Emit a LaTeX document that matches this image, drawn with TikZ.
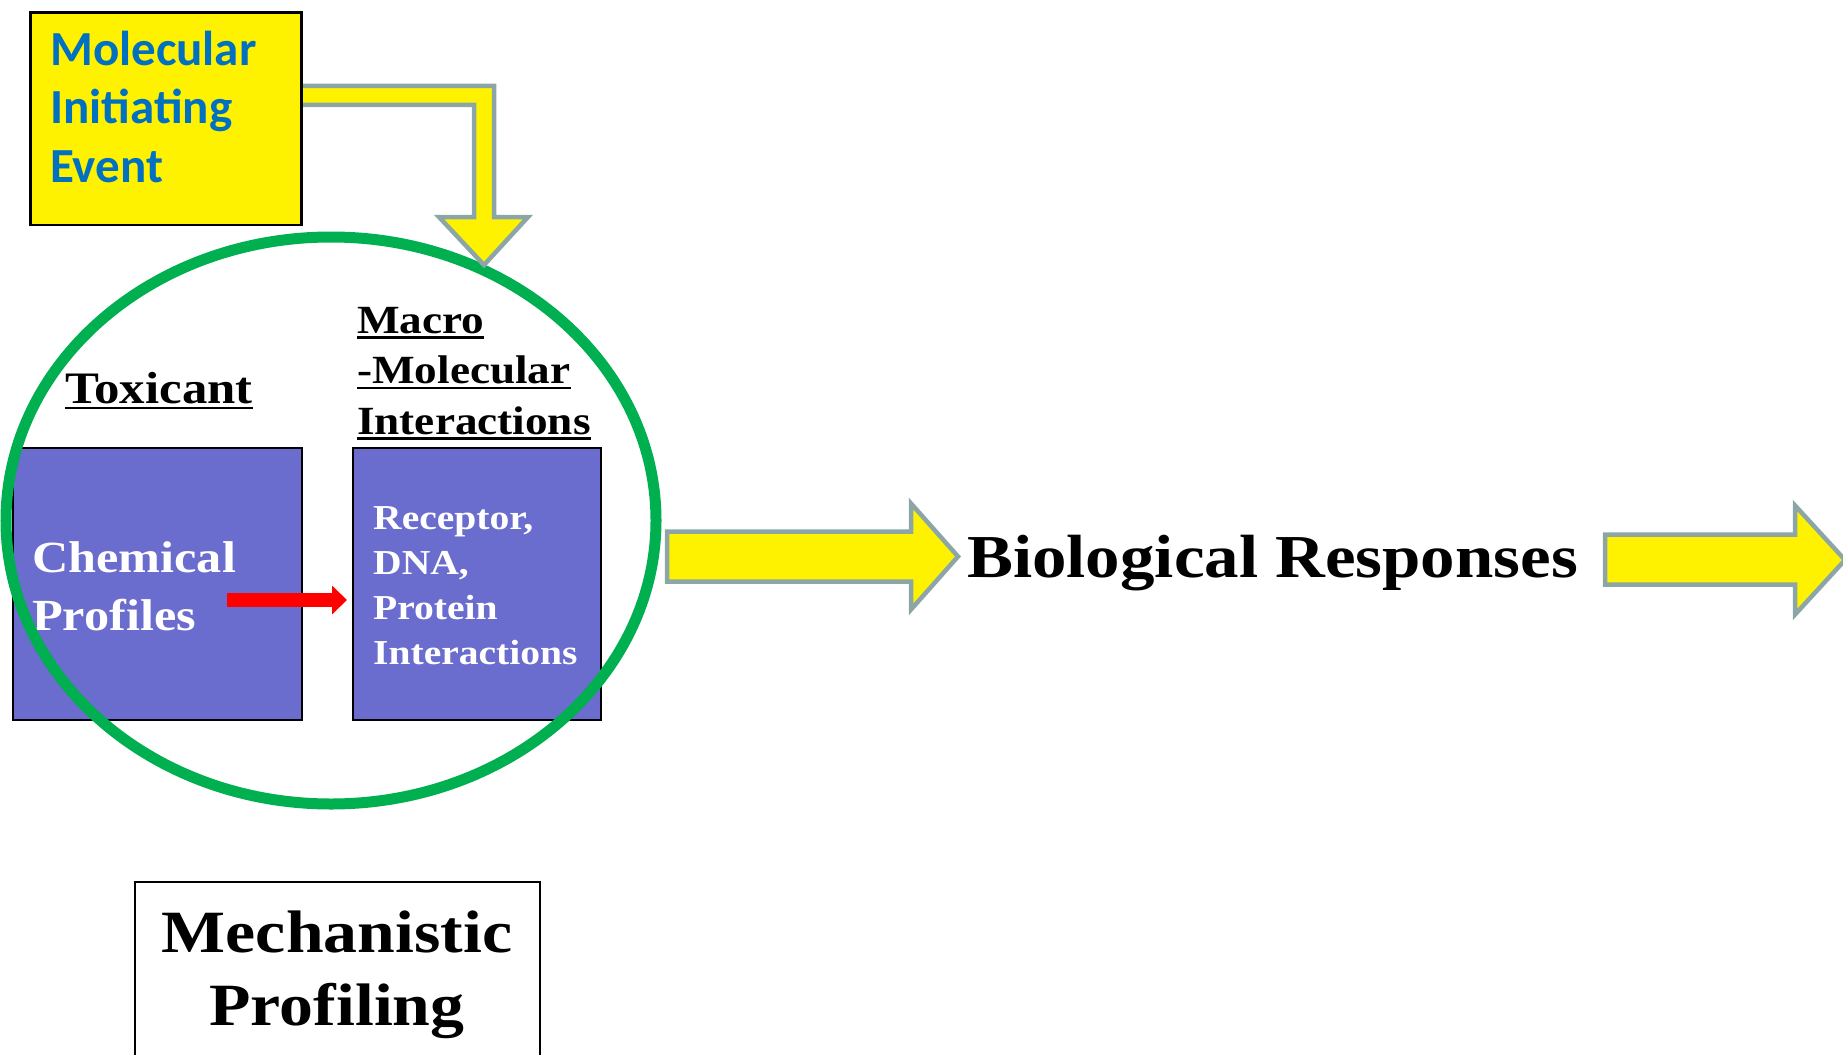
\documentclass[tikz,border=0pt]{standalone}
\usepackage{fontspec}
\usetikzlibrary{arrows.meta,shapes.geometric}
\newfontfamily\camb[FakeStretch=1.13]{Liberation Serif}
\newfontfamily\calib{Carlito}
\definecolor{mieblue}{RGB}{0,112,192}
\definecolor{arrgray}{RGB}{140,166,168}
\definecolor{boxpurple}{RGB}{106,108,206}
\definecolor{circgreen}{RGB}{0,176,80}
\newcommand\undl[2][-6pt]{\setbox0\hbox{#2}\rlap{\rule[#1]{\wd0}{2.5pt}}\box0}
\tikzset{
  purplebox/.style={draw=black, line width=2pt, fill=boxpurple, inner sep=0pt, anchor=north west},
  yarrow/.style={draw=arrgray, line width=4.5pt, fill=yellow, line join=miter},
  txt/.style={inner sep=0pt, anchor=base west, align=left},
  redarr/.style={draw=red, line width=14pt, -{Triangle[length=15pt,width=28pt]}},
}
\begin{document}
\begin{tikzpicture}[x=1pt,y=-1pt]
\useasboundingbox (0,0) rectangle (1843,1054);
% purple boxes
\node[purplebox, minimum width=289pt, minimum height=272pt] (chem) at (12,447) {};
\node[purplebox, minimum width=248pt, minimum height=272pt] (rec) at (352,447) {};
% texts (anchor at the baseline of the last line)
\node[txt, text=white, font=\camb\bfseries\fontsize{44.5}{58}\selectfont] (chemtxt) at (32,630) {Chemical\\Profiles};
\node[txt, text=white, font=\camb\bfseries\fontsize{35}{45}\selectfont] (rectxt) at (373,664) {Receptor,\\DNA,\\Protein\\Interactions};
\node[txt, font=\camb\bfseries\fontsize{45}{54}\selectfont] (tox) at (65,403) {\undl{Toxicant}};
\node[txt, font=\camb\bfseries\fontsize{40}{50.5}\selectfont] (macro) at (357,434) {\undl[-5.5pt]{Macro}\\\undl[-5.5pt]{-Molecular}\\\undl[-5.5pt]{Interactions}};
% green circle
\node[draw=circgreen, line width=11pt, ellipse, minimum width=650pt, minimum height=567pt, inner sep=0pt] (circ) at (331,520.5) {};
% bent arrow from MIE
\draw[yarrow] (290,86) -- (494,86) -- (494,217) -- (528,217) -- (484,265) -- (439,217) -- (474,217) -- (474,105) -- (290,105) -- cycle;
% MIE box
\node[draw=black, line width=2.5pt, fill=yellow, minimum width=271pt, minimum height=212pt, inner sep=0pt, anchor=north west] (mie) at (29,11.5) {};
\node[txt, text=mieblue, font=\calib\bfseries\fontsize{49}{58.5}\selectfont] (mietxt) at (50,182) {Molecular\\Initiating\\Event};
% red arrow
\coordinate (rs) at (227,600);
\draw[redarr, shorten >=5pt] (rs) -- (rs -| rec.west);
% yellow block arrows
\draw[yarrow] (667,531.5) -- (911,531.5) -- (911,503.5) -- (958,556.5) -- (911,609.5) -- (911,581.5) -- (667,581.5) -- cycle;
\node[txt, font=\camb\bfseries\fontsize{61}{70}\selectfont] (bio) at (967,577) {Biological Responses};
\draw[yarrow] (1605,534.5) -- (1795,534.5) -- (1795,505.5) -- (1845,560) -- (1795,614.5) -- (1795,584.5) -- (1605,584.5) -- cycle;
% Mechanistic Profiling
\node[draw=black, line width=2pt, minimum width=405pt, minimum height=200pt, inner sep=0pt, anchor=north west] (mbox) at (134,881) {};
\node[inner sep=0pt, anchor=base, align=center, font=\camb\bfseries\fontsize{60}{73}\selectfont] (mtxt) at (337,1025) {Mechanistic\\Profiling};
\end{tikzpicture}
\end{document}
